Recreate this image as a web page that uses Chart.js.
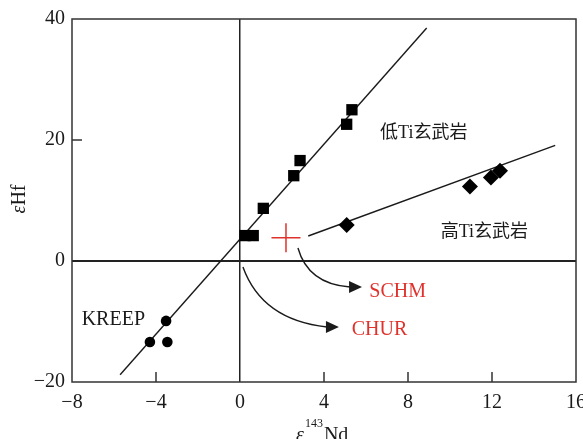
<!DOCTYPE html>
<html lang="zh">
<head>
  <meta charset="UTF-8">
  <title>εHf - εNd</title>
  <script src="https://cdn.jsdelivr.net/npm/chart.js@4/dist/chart.umd.min.js"></script>
  <style>
    html, body { margin: 0; padding: 0; background: #fff; }
    #wrap { width: 583px; height: 439px; }
  </style>
</head>
<body>
  <div id="wrap"><canvas id="myChart" width="583" height="439"></canvas></div>

<script>
// valores
const lowTiX = [0.24, 0.63, 1.11, 2.56, 2.86, 5.08, 5.33];
const lowTiY = [4.2, 4.2, 8.7, 14.1, 16.6, 22.6, 25.0];
const highTiX = [5.08, 10.95, 11.95, 12.38];
const highTiY = [5.95, 12.3, 13.8, 14.9];
const kreepX = [-3.52, -4.29, -3.46];
const kreepY = [-9.9, -13.4, -13.4];
const lowTiLineX = [-5.71, 8.89];
const lowTiLineY = [-18.8, 38.5];
const highTiLineX = [3.25, 15.01];
const highTiLineY = [4.13, 19.12];
const schmX = [2.19];
const schmY = [3.85];
const xTicks = [-8, -4, 0, 4, 8, 12, 16];
const yTicks = [-20, 0, 20, 40];

const pts = (xs, ys) => xs.map((x, i) => ({ x: x, y: ys[i] }));

const serif = '"Liberation Serif", "Times New Roman", serif';
const cjk = '"Liberation Serif", "Noto Sans CJK SC", serif';
const red = '#e0322c';
const ink = '#1a1a1a';

// textos e setas em coordenadas de dados
const notes = [
  { text: 'KREEP', x: -7.54, y: -9.75, color: ink, font: '20px ' + serif },
  { text: '低Ti玄武岩', x: 6.67, y: 21.1, color: ink, font: '18px ' + cjk },
  { text: '高Ti玄武岩', x: 9.56, y: 4.8, color: ink, font: '18px ' + cjk },
  { text: 'SCHM', x: 6.16, y: -5.12, color: red, font: '20px ' + serif },
  { text: 'CHUR', x: 5.32, y: -11.4, color: red, font: '20px ' + serif }
];
const arrows = [
  { p0: [2.76, 2.15], c: [3.24, -3.8], p1: [5.24, -4.3], tip: [5.81, -4.3] },
  { p0: [0.14, -0.99], c: [1.05, -9.75], p1: [4.14, -10.9], tip: [4.71, -10.9] }
];

const extras = {
  id: 'extras',
  afterDraw(chart) {
    const { ctx, chartArea: a, scales: { x, y } } = chart;
    ctx.save();
    // moldura
    ctx.strokeStyle = '#333';
    ctx.lineWidth = 1.5;
    ctx.strokeRect(a.left, a.top, a.right - a.left, a.bottom - a.top);
    // ticks internos
    ctx.beginPath();
    xTicks.slice(1, -1).forEach(v => {
      if (v === 0) return;
      const px = x.getPixelForValue(v);
      ctx.moveTo(px, a.bottom); ctx.lineTo(px, a.bottom - 10);
    });
    yTicks.slice(1, -1).forEach(v => {
      if (v === 0) return;
      const py = y.getPixelForValue(v);
      ctx.moveTo(a.left, py); ctx.lineTo(a.left + 10, py);
    });
    ctx.stroke();

    // setas
    ctx.strokeStyle = ink; ctx.fillStyle = ink; ctx.lineWidth = 1.4;
    arrows.forEach(ar => {
      const P = p => [x.getPixelForValue(p[0]), y.getPixelForValue(p[1])];
      const [x0, y0] = P(ar.p0), [cx, cy] = P(ar.c), [x1, y1] = P(ar.p1), [tx, ty] = P(ar.tip);
      ctx.beginPath();
      ctx.moveTo(x0, y0);
      ctx.quadraticCurveTo(cx, cy, x1, y1);
      ctx.stroke();
      ctx.beginPath();
      ctx.moveTo(tx, ty);
      ctx.lineTo(x1 - 1, y1 - 6);
      ctx.lineTo(x1 - 1, y1 + 6);
      ctx.closePath();
      ctx.fill();
    });

    // rotulos
    ctx.textBaseline = 'middle';
    ctx.textAlign = 'left';
    notes.forEach(n => {
      ctx.font = n.font;
      ctx.fillStyle = n.color;
      ctx.fillText(n.text, x.getPixelForValue(n.x), y.getPixelForValue(n.y));
    });

    // titulo eixo x
    ctx.fillStyle = ink;
    ctx.textBaseline = 'alphabetic';
    let cx0 = 296;
    ctx.font = 'italic 20px ' + serif;
    ctx.fillText('ε', cx0, 441);
    cx0 += ctx.measureText('ε').width + 1;
    ctx.font = '12px ' + serif;
    ctx.fillText('143', cx0, 427);
    cx0 += ctx.measureText('143').width + 1;
    ctx.font = '20px ' + serif;
    ctx.fillText('Nd', cx0, 441);

    // titulo eixo y
    ctx.translate(25, 199);
    ctx.rotate(-Math.PI / 2);
    ctx.font = 'italic 20px ' + serif;
    const w1 = ctx.measureText('ε').width;
    ctx.font = '20px ' + serif;
    const w2 = ctx.measureText('Hf').width;
    let sx = -(w1 + w2) / 2;
    ctx.font = 'italic 20px ' + serif;
    ctx.fillText('ε', sx, 0);
    ctx.font = '20px ' + serif;
    ctx.fillText('Hf', sx + w1, 0);
    ctx.restore();
  }
};

const fixedX = {
  afterFit(s) { s.height = 57; s.paddingLeft = 0; s.paddingRight = 0; }
};
const fixedY = {
  afterFit(s) { s.width = 72; s.paddingTop = 0; s.paddingBottom = 0; }
};
const zeroGrid = c => (c.tick && c.tick.value === 0 ? '#222' : 'rgba(0,0,0,0)');
const minus = v => String(v).replace('-', '−');

const data = {
  datasets: [
    { label: 'lowTiLine', data: pts(lowTiLineX, lowTiLineY), showLine: true, pointRadius: 0,
      borderColor: ink, borderWidth: 1.4, order: 5 },
    { label: 'highTiLine', data: pts(highTiLineX, highTiLineY), showLine: true, pointRadius: 0,
      borderColor: ink, borderWidth: 1.4, order: 5 },
    { label: '低Ti玄武岩', data: pts(lowTiX, lowTiY), pointStyle: 'rect', pointRadius: 8,
      backgroundColor: '#000', borderColor: '#000', borderWidth: 0, order: 1 },
    { label: '高Ti玄武岩', data: pts(highTiX, highTiY), pointStyle: 'rectRot', pointRadius: 8,
      backgroundColor: '#000', borderColor: '#000', borderWidth: 0, order: 1 },
    { label: 'KREEP', data: pts(kreepX, kreepY), pointStyle: 'circle', pointRadius: 5.3,
      backgroundColor: '#000', borderColor: '#000', borderWidth: 0, order: 1 },
    { label: 'SCHM', data: pts(schmX, schmY), pointStyle: 'cross', pointRadius: 14.5,
      borderColor: red, borderWidth: 1.5, order: 1 }
  ]
};

const config = {
  type: 'scatter',
  data: data,
  options: {
    responsive: false,
    animation: false,
    layout: { autoPadding: false, padding: { top: 19, right: 7, left: 0, bottom: 0 } },
    plugins: { legend: { display: false }, tooltip: { enabled: false } },
    scales: {
      x: {
        type: 'linear', min: -8, max: 16,
        afterBuildTicks: s => { s.ticks = xTicks.map(v => ({ value: v })); },
        ticks: { color: ink, font: { family: serif, size: 20 }, padding: 9, maxRotation: 0, callback: minus },
        grid: { color: zeroGrid, lineWidth: 1.5, drawTicks: false },
        border: { display: false },
        ...fixedX
      },
      y: {
        type: 'linear', min: -20, max: 40,
        afterBuildTicks: s => { s.ticks = yTicks.map(v => ({ value: v })); },
        ticks: { color: ink, font: { family: serif, size: 20 }, padding: 7, callback: minus },
        grid: { color: zeroGrid, lineWidth: 2, drawTicks: false },
        border: { display: false },
        ...fixedY
      }
    }
  },
  plugins: [extras]
};

const myChart = new Chart(document.getElementById('myChart'), config);
</script>
</body>
</html>
